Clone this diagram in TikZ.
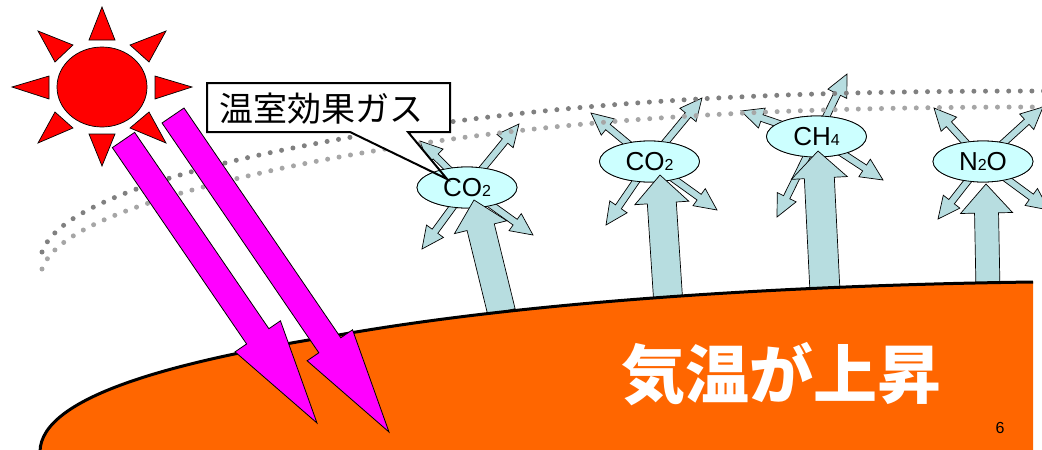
\documentclass[tikz,border=0pt]{standalone}
\usepackage{fontspec}
\usetikzlibrary{calc,shapes.geometric}
\setmainfont{Liberation Sans}
\newfontfamily\jp{Noto Sans CJK JP}
\definecolor{sunred}{RGB}{255,0,0}
\definecolor{beam}{RGB}{255,0,255}
\definecolor{ground}{RGB}{255,102,0}
\definecolor{heat}{RGB}{183,221,224}
\definecolor{gasfill}{RGB}{204,255,255}
\definecolor{dotdark}{RGB}{128,128,128}
\definecolor{dotlight}{RGB}{166,166,166}

% block arrow: style, start, tip, half shaft width, half head width, head length
\newcommand\blockarrow[6]{%
  \coordinate (bah) at ($(#3)!#6!(#2)$);
  \draw[#1] ($(#2)!#4!90:(#3)$) -- ($(bah)!#4!90:(#3)$) -- ($(bah)!#5!90:(#3)$) -- (#3)
    -- ($(bah)!#5!-90:(#3)$) -- ($(bah)!#4!-90:(#3)$) -- ($(#2)!#4!-90:(#3)$) -- cycle;}

\tikzset{
  heatarrow/.style={fill=heat, draw=black, line width=0.7pt, line join=miter},
  beamarrow/.style={fill=beam, draw=black, line width=0.8pt, line join=miter},
  gas/.style={ellipse, fill=gasfill, draw=black, line width=0.8pt, minimum width=100pt,
    minimum height=41pt, inner sep=0pt, font=\fontsize{26}{26}\selectfont},
  dotrow/.style={line width=5pt, line cap=round, dash pattern=on 0pt off 11.6pt},
  ray/.style={fill=sunred, draw=black, line width=0.7pt, line join=miter},
}
\newcommand\sm[1]{{\fontsize{16}{16}\selectfont #1}}

\begin{document}
\begin{tikzpicture}[x=1pt,y=-1pt]
\useasboundingbox (0,0) rectangle (1042,450);
\clip (0,0) rectangle (1042,450);

% gas molecules (placed first so arrows can refer to them)
\path node[gas] (co2a) at (467,187.5) {CO\sm{2}}
      node[gas] (co2b) at (649.5,161.5) {CO\sm{2}}
      node[gas] (ch4) at (816.5,136.5) {CH\sm{4}}
      node[gas] (n2o) at (983,161.5) {N\sm{2}O};

% re-emitted radiation tips
\coordinate (co2a-ul) at (420,141);  \coordinate (co2a-ur) at (519,124);
\coordinate (co2a-dl) at (422,249);  \coordinate (co2a-dr) at (533,235);
\coordinate (co2b-ul) at (591,113);  \coordinate (co2b-ur) at (702,98);
\coordinate (co2b-dl) at (606,225);  \coordinate (co2b-dr) at (717,210);
\coordinate (ch4-ul) at (741,111);   \coordinate (ch4-ur) at (847,74);
\coordinate (ch4-dl) at (777,217);   \coordinate (ch4-dr) at (883,180);
\coordinate (n2o-ul) at (934,108);   \coordinate (n2o-ur) at (1043,107);
\coordinate (n2o-dl) at (938,219);   \coordinate (n2o-dr) at (1049,210);

\foreach \g in {co2a,co2b,ch4,n2o}{
  \foreach \d in {ul,ur,dl,dr}{
    \blockarrow{heatarrow}{\g.center}{\g-\d}{3.5pt}{10.5pt}{22pt}
  }
}

% atmosphere layer
\draw[dotrow, dotdark] (42,252) .. controls (58,205) and (183,170.5) .. (283,150)
  .. controls (533,99) and (783,91) .. (1046,91);
\draw[dotrow, dotlight] (42,269) .. controls (58,222) and (183,190) .. (283,168)
  .. controls (533,116) and (783,107) .. (1046,107);

% callout background
\fill[white] (207,83) -- (450,83) -- (450,132) -- (408,132) -- (447,179) -- (350,132)
  -- (207,132) -- cycle;

% molecules drawn again on top of the small arrows
\node[gas] at (co2a) {CO\sm{2}};
\node[gas] at (co2b) {CO\sm{2}};
\node[gas] at (ch4) {CH\sm{4}};
\node[gas] at (n2o) {N\sm{2}O};

% infrared from the ground
\coordinate (g1) at (501.5,312); \coordinate (t1) at (474,200);
\coordinate (g2) at (668,298);   \coordinate (t2) at (660,175);
\coordinate (g3) at (825,292);   \coordinate (t3) at (818,151);
\coordinate (g4) at (988,290);   \coordinate (t4) at (986,184);
\blockarrow{heatarrow}{g1}{t1}{14pt}{27pt}{28pt}
\blockarrow{heatarrow}{g2}{t2}{14.5pt}{27pt}{28pt}
\blockarrow{heatarrow}{g3}{t3}{15pt}{28pt}{27pt}
\blockarrow{heatarrow}{g4}{t4}{12pt}{26pt}{29pt}

% ground
\fill[ground] (40,452) .. controls (40,395) and (183,360) .. (333,336)
  .. controls (533,300) and (803,285) .. (1033,282) -- (1033,452) -- cycle;
\draw[line width=3pt] (40,452) .. controls (40,395) and (183,360) .. (333,336)
  .. controls (533,300) and (803,285) .. (1033,282);

% sunlight
\coordinate (s1) at (123.5,140); \coordinate (e1) at (317,423);
\coordinate (s2) at (173,115.5); \coordinate (e2) at (389,432);
\blockarrow{beamarrow}{s1}{e1}{13.5pt}{27.5pt}{105pt}
\blockarrow{beamarrow}{s2}{e2}{13.3pt}{27.5pt}{105pt}

% callout
\draw[line width=2pt, line join=miter] (207,83) -- (450,83) -- (450,132) -- (408,132)
  -- (447,179) -- (350,132) -- (207,132) -- cycle;
\node[font=\jp\fontsize{34}{34}\selectfont, inner sep=0pt] (label) at (321,109) {温室効果ガス};

% sun
\node[ellipse, fill=sunred, draw=black, line width=0.7pt, minimum width=90pt,
  minimum height=80pt, inner sep=0pt] (sun) at (102,87) {};
\draw[ray] (102,7) -- (115,40) -- (89,40) -- cycle;
\draw[ray] (102,166) -- (115,134) -- (89,134) -- cycle;
\draw[ray] (12,87) -- (49,76) -- (49,99) -- cycle;
\draw[ray] (192,87) -- (155,76) -- (155,99) -- cycle;
\draw[ray] (38,31) -- (73,45) -- (55,62) -- cycle;
\draw[ray] (166,31) -- (130,45) -- (149,62) -- cycle;
\draw[ray] (38,143) -- (55,112) -- (73,128) -- cycle;
\draw[ray] (166,143) -- (149,112) -- (130,128) -- cycle;

% headline and page number
\node[font=\jp\bfseries\fontsize{64}{64}\selectfont, text=white, inner sep=0pt] (rise)
  at (781,374) {気温が上昇};
\node[font=\fontsize{16}{16}\selectfont, inner sep=0pt] (page) at (1000,428) {6};
\end{tikzpicture}
\end{document}
